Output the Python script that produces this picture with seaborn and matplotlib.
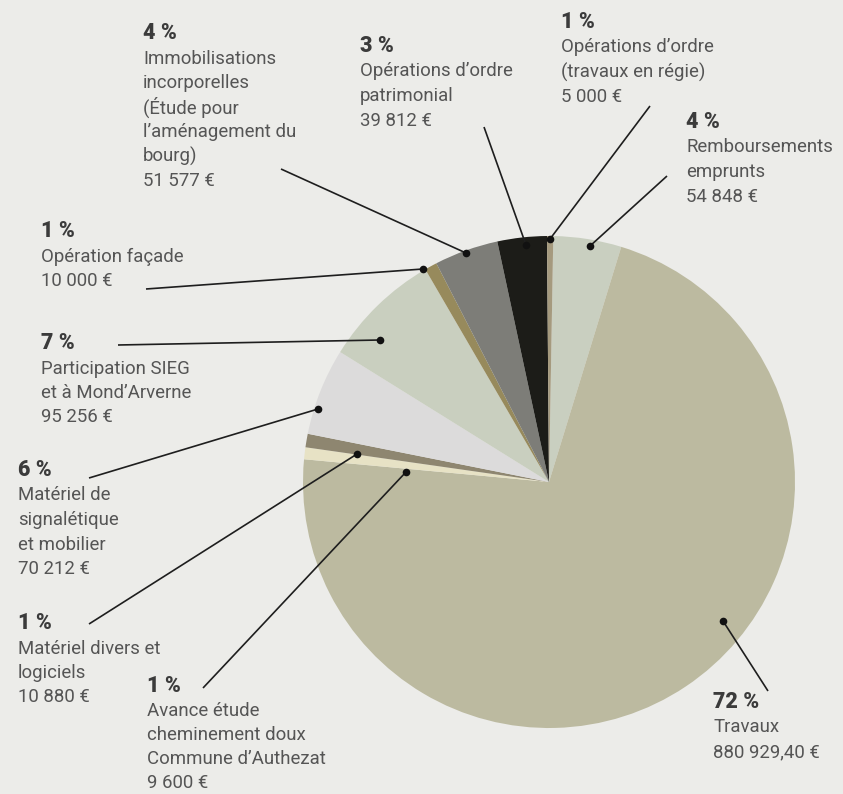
import matplotlib
matplotlib.use("Agg")
import matplotlib.pyplot as plt
import seaborn as sns

# ---- data (clockwise from the top) ----
categories = [
    ["Remboursements", "emprunts"],
    ["Travaux"],
    ["Avance étude", "cheminement doux", "Commune d’Authezat"],
    ["Matériel divers et", "logiciels"],
    ["Matériel de", "signalétique", "et mobilier"],
    ["Participation SIEG", "et à Mond’Arverne"],
    ["Opération façade"],
    ["Immobilisations", "incorporelles", "(Étude pour", "l’aménagement du", "bourg)"],
    ["Opérations d’ordre", "patrimonial"],
    ["Opérations d’ordre", "(travaux en régie)"],
]
values = [54848, 880929.40, 9600, 10880, 70212, 95256, 10000, 51577, 39812, 5000]
percent_labels = ["4 %", "72 %", "1 %", "1 %", "6 %", "7 %", "1 %", "4 %", "3 %", "1 %"]
amount_labels = ["54 848 €", "880 929,40 €", "9 600 €", "10 880 €", "70 212 €",
                 "95 256 €", "10 000 €", "51 577 €", "39 812 €", "5 000 €"]
colors = ["#c9cfc0", "#bcbaa0", "#e7e2c5", "#8e8670", "#dcdbdb",
          "#c9cfbf", "#978a5c", "#7d7d78", "#1c1c18", "#a59a7e"]

# ---- layout (pixel coordinates, y measured from top) ----
W, H = 843, 794
center = (549, 482)
radius = 246
# label block: (left x, y of percent line)
label_pos = [(686, 122), (713, 702), (147, 686), (18, 623), (18, 470),
             (41, 343), (41, 231), (143, 33), (360, 46), (561, 22)]
# leader lines: (start in label, dot on slice)
leaders = [((667, 176), (590, 246)), ((768, 691), (723, 621)),
           ((203, 688), (406, 472)), ((89, 624), (357, 454)),
           ((89, 478), (318, 409)), ((118, 345), (380, 340)),
           ((146, 289), (423, 269)), ((281, 169), (466, 253)),
           ((484, 127), (526, 245)), ((650, 106), (550, 239))]

sns.set_theme(style="white")
plt.rcParams["font.family"] = ["Roboto", "DejaVu Sans"]

bg = "#ecece9"
fig = plt.figure(figsize=(W / 100, H / 100), dpi=100, facecolor=bg)
ax = fig.add_axes([0, 0, 1, 1])
ax.set_facecolor(bg)

def Y(py):
    return H - py

ax.pie(values, colors=colors, startangle=89, counterclock=False,
       center=(center[0], Y(center[1])), radius=radius,
       wedgeprops=dict(linewidth=0), frame=True)
ax.set_xlim(0, W)
ax.set_ylim(0, H)
ax.set_aspect("equal")
ax.axis("off")

for idx, ((x, y), pct, cat, amt) in enumerate(zip(label_pos, percent_labels, categories, amount_labels)):
    step = 24.0 if idx == 2 else 24.5
    ax.text(x, Y(y), pct, fontsize=15.5, fontweight="black", color="#3b3b3b",
            va="center", ha="left")
    lines = list(cat) + [amt]
    for i, ln in enumerate(lines):
        ax.text(x, Y(y + step * (i + 1) + 1), ln, fontsize=13.4, color="#555555",
                va="center", ha="left")

for (x0, y0), (x1, y1) in leaders:
    ax.plot([x0, x1], [Y(y0), Y(y1)], color="#1e1e1e", lw=1.2, solid_capstyle="butt")
    ax.plot([x1], [Y(y1)], marker="o", ms=5.5, color="#111111", mec="none")

fig.savefig("out.png", dpi=100, facecolor=bg)
